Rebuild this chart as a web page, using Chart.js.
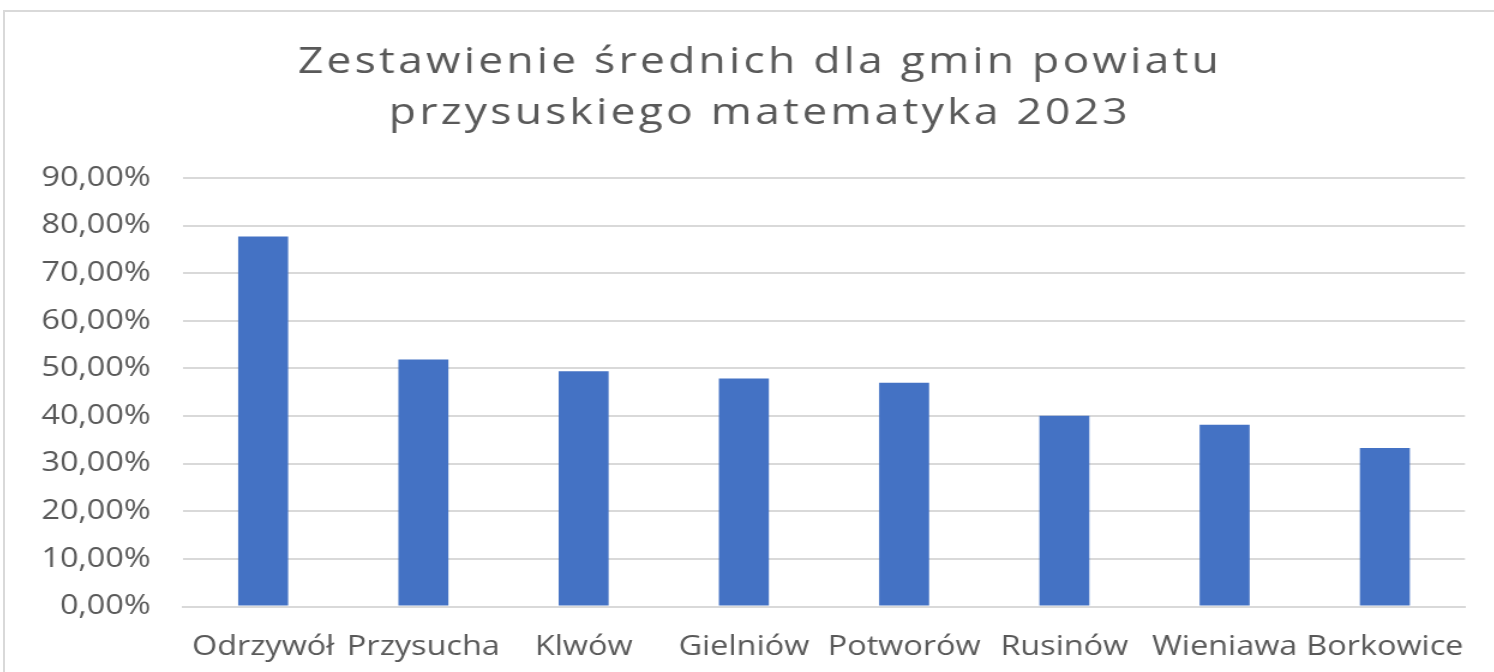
<!DOCTYPE html>
<html>
<head>
<meta charset="utf-8">
<script src="https://cdn.jsdelivr.net/npm/chart.js@4"></script>
<style>
    html, body { margin: 0; padding: 0; background: #fff; overflow: hidden; }
    body { width: 1494px; height: 672px; position: relative; }
    #frame {
        position: absolute; left: 3px; top: 10px; width: 1600px; height: 700px;
        border: 2px solid #d9d9d9; box-sizing: border-box;
    }
    #wrap {
        position: absolute; left: 3px; top: 0; width: 1262px; height: 681px;
        transform: scaleX(1.2); transform-origin: 0 0;
    }
</style>
</head>
<body>
<div id="frame"></div>
<div id="wrap"><canvas id="chart"></canvas></div>
<script>
const gminy = ['Odrzywół', 'Przysucha', 'Klwów', 'Gielniów', 'Potworów', 'Rusinów', 'Wieniawa', 'Borkowice'];
const srednie = [77.7, 51.9, 49.4, 47.9, 47.0, 40.1, 38.2, 33.3];
const titleLines = ['Zestawienie średnich dla gmin powiatu', 'przysuskiego matematyka 2023'];

Chart.defaults.font.family = 'Open Sans';
Chart.defaults.color = '#595959';

// wider title, shifted so it sits in the middle of the frame, not of the plot
const wideTitle = {
    id: 'wideTitle',
    afterLayout(chart) {
        const tb = chart.titleBlock;
        if (!tb || tb._wide) return;
        const draw = tb.draw.bind(tb);
        tb.draw = function (area) {
            const ctx = this.ctx;
            ctx.save();
            ctx.letterSpacing = '2.7px';
            ctx.translate(6.6, 0);
            draw(area);
            ctx.restore();
        };
        tb._wide = true;
    }
};

new Chart(
    document.getElementById('chart'),
    {
        type: 'bar',
        data: {
            labels: gminy,
            datasets: [
                {
                    label: 'Średnia',
                    data: srednie,
                    backgroundColor: '#4472c4',
                    borderWidth: 0,
                    barPercentage: 1,
                    categoryPercentage: 0.312
                }
            ]
        },
        options: {
            responsive: true,
            maintainAspectRatio: false,
            animation: false,
            layout: {
                padding: { left: 30, right: 43.7, top: 0, bottom: 0 }
            },
            plugins: {
                legend: { display: false },
                tooltip: { enabled: false },
                title: {
                    display: true,
                    text: titleLines,
                    color: '#595959',
                    font: { size: 37, weight: 'normal', lineHeight: '51px' },
                    padding: { top: 37, bottom: 39 }
                }
            },
            scales: {
                x: {
                    grid: { display: false },
                    border: { color: '#d9d9d9', width: 2 },
                    ticks: {
                        font: { size: 27 },
                        padding: 17,
                        maxRotation: 0,
                        autoSkip: false
                    }
                },
                y: {
                    min: 0,
                    max: 90,
                    grid: { color: '#d9d9d9', lineWidth: 2, drawTicks: false },
                    border: { display: false },
                    afterFit: axis => { axis.width = 120; },
                    ticks: {
                        stepSize: 10,
                        padding: 27,
                        font: { size: 27 },
                        callback: value => value.toFixed(2).replace('.', ',') + '%'
                    }
                }
            }
        },
        plugins: [wideTitle]
    }
);
</script>
</body>
</html>
